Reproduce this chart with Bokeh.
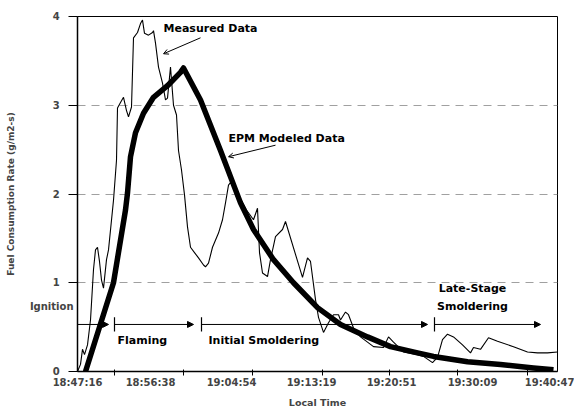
from bokeh.plotting import figure
from bokeh.models import (LinearAxis, FixedTicker, Range1d, Arrow, NormalHead, OpenHead,
                          ColumnDataSource, Grid)
from bokeh.embed import file_html
from bokeh.resources import INLINE
from bokeh.core.properties import value

# ---- data ----
meas_x = [0.0, 0.3, 0.5, 0.7, 1.0, 1.3, 1.6, 1.8, 2.0, 2.2, 2.4, 2.6, 2.9, 3.1, 3.6, 3.9, 4.0,
          4.3, 4.6, 4.9, 5.1, 5.4, 5.6, 6.0, 6.3, 6.5, 6.7, 7.1, 7.5, 7.6, 7.8, 8.1, 8.5, 8.8,
          9.0, 9.3, 9.6, 9.9, 10.1, 10.4, 10.7, 11.0, 11.3, 11.7, 12.1, 12.6, 12.8, 13.1, 13.5,
          14.1, 14.5, 14.8, 15.1, 15.3, 16.1, 16.9, 17.6, 18.0, 18.2, 18.5, 19.0, 19.3, 19.8,
          20.5, 20.8, 22.5, 23.0, 23.3, 23.8, 24.1, 24.6, 25.1, 25.6, 26.1, 26.3, 26.8, 27.1,
          27.6, 28.3, 29.6, 30.6, 31.1, 31.6, 32.6, 34.0, 34.6, 35.5, 36.0, 36.5, 37.0, 37.6,
          38.5, 39.3, 39.6, 40.3, 41.1, 42.0, 43.6, 45.0, 46.0, 47.0, 48.0]
meas_y = [0.0, 0.08, 0.25, 0.19, 0.30, 0.58, 1.15, 1.37, 1.40, 1.24, 1.03, 0.94, 1.26, 1.37,
          1.93, 2.38, 2.97, 3.03, 3.09, 2.94, 2.87, 2.98, 3.76, 3.82, 3.92, 3.96, 3.81, 3.79,
          3.82, 3.84, 3.70, 3.43, 3.25, 3.06, 3.08, 3.43, 3.00, 2.89, 2.49, 2.27, 1.99, 1.63,
          1.40, 1.34, 1.28, 1.20, 1.18, 1.22, 1.40, 1.56, 1.71, 1.90, 2.10, 2.13, 1.99, 1.82,
          1.71, 1.84, 1.34, 1.11, 1.07, 1.26, 1.52, 1.60, 1.69, 1.06, 1.28, 1.24, 0.81, 0.61,
          0.44, 0.55, 0.64, 0.64, 0.58, 0.67, 0.64, 0.49, 0.39, 0.28, 0.27, 0.39, 0.33, 0.22,
          0.19, 0.17, 0.10, 0.16, 0.36, 0.42, 0.39, 0.30, 0.21, 0.27, 0.25, 0.38, 0.34, 0.28,
          0.22, 0.21, 0.21, 0.22]

model_x = [0.8, 3.6, 4.8, 5.0, 5.3, 5.8, 6.6, 7.6, 9.0, 10.3, 10.6, 12.3, 14.3, 16.3, 17.6,
           19.6, 21.6, 24.0, 26.3, 29.0, 31.3, 34.0, 35.6, 39.0, 42.3, 45.6, 47.6]
model_y = [0.0, 1.0, 1.82, 2.01, 2.42, 2.69, 2.91, 3.09, 3.22, 3.37, 3.42, 3.06, 2.49, 1.90,
           1.60, 1.26, 1.0, 0.72, 0.53, 0.39, 0.28, 0.21, 0.17, 0.11, 0.08, 0.04, 0.02]

x_tick_pos = [3.7, 10.6, 17.5, 24.5, 31.2, 38.0, 45.0]
x_label_pos = [0, 7.3, 15.4, 23.4, 31.4, 39.5, 47.3]
x_labels = ["18:47:16", "18:56:38", "19:04:54", "19:13:19", "19:20:51", "19:30:09", "19:40:47"]
y_ticks = [0, 1, 2, 3, 4]
y_labels = ["0", "1", "2", "3", "4"]
grid_ticks = [1, 2, 3]

phase_y = 0.53
phase_start = [0.0, 3.7, 12.4, 35.7]
phase_end = [3.1, 11.6, 35.0, 46.3]
phase_bars = [3.7, 12.4, 35.7]
phase_text = ["Flaming", "Initial Smoldering", "Late-Stage", "Smoldering"]
phase_text_x = [4.0, 13.1, 39.5, 39.5]
phase_text_y = [0.35, 0.35, 0.93, 0.73]
phase_text_align = ["left", "left", "center", "center"]
ignition_label_y = 0.73

FONT = "DejaVu Sans"
PAD = "\u2007\u2007"  # figure spaces keep the numbers clear of the tick marks

p = figure(width=574, height=410, x_range=Range1d(0, 48), y_range=Range1d(0, 4),
           x_axis_type=None, y_axis_type=None, output_backend="svg", toolbar_location=None,
           min_border_left=77, min_border_right=17, min_border_top=16, min_border_bottom=38)
p.outline_line_color = "black"
p.outline_line_width = 1
p.background_fill_color = "white"
p.border_fill_color = "white"

# y axis: numeric labels + the "Ignition" phase label share one axis;
# the tick marks come from the minor ticks so no mark is drawn beside "Ignition"
y_overrides = {t: lab + PAD for t, lab in zip(y_ticks, y_labels)}
y_overrides[ignition_label_y] = "Ignition"
yaxis = LinearAxis(ticker=FixedTicker(ticks=y_ticks + [ignition_label_y], minor_ticks=y_ticks),
                   major_label_overrides=y_overrides,
                   axis_label="Fuel Consumption Rate (g/m2-s)",
                   axis_label_text_font=FONT, axis_label_text_font_style="bold",
                   axis_label_text_font_size="9px", axis_label_standoff=11,
                   major_label_text_font=FONT, major_label_text_font_style="bold",
                   major_label_text_font_size="10px", major_label_standoff=-5,
                   major_tick_out=0, major_tick_in=0, major_tick_line_color=None,
                   minor_tick_out=9, minor_tick_in=0, minor_tick_line_color="black",
                   minor_tick_line_width=1,
                   axis_line_color="black", axis_line_width=1.5)
p.add_layout(yaxis, "left")

p.add_layout(Grid(dimension=1, ticker=FixedTicker(ticks=grid_ticks),
                  grid_line_color="#a0a0a0", grid_line_dash="8 6", grid_line_width=1.2))

# x axis: tick marks
xaxis_ticks = LinearAxis(ticker=FixedTicker(ticks=x_tick_pos),
                         major_label_overrides={t: "" for t in x_tick_pos},
                         major_label_text_font_size="0px", major_label_standoff=0,
                         major_tick_out=4, major_tick_in=2, minor_tick_out=0, minor_tick_in=0,
                         axis_line_color="black", axis_line_width=1.5)
p.add_layout(xaxis_ticks, "below")
# x axis: labels
xaxis_labels = LinearAxis(ticker=FixedTicker(ticks=x_label_pos),
                          major_label_overrides=dict(zip(x_label_pos, x_labels)),
                          major_label_text_font=FONT, major_label_text_font_style="bold",
                          major_label_text_font_size="10px", major_label_standoff=1,
                          major_tick_out=0, major_tick_in=0, minor_tick_out=0, minor_tick_in=0,
                          major_tick_line_color=None, axis_line_color=None,
                          axis_label="Local Time", axis_label_text_font=FONT,
                          axis_label_text_font_style="bold", axis_label_text_font_size="9.5px",
                          axis_label_standoff=6)
p.add_layout(xaxis_labels, "below")

# data lines
p.line(meas_x, meas_y, line_color="black", line_width=1.1)
p.line(model_x, model_y, line_color="black", line_width=5.5, line_join="round")

# phase arrows
arr_src = ColumnDataSource(dict(x0=phase_start, x1=phase_end, y=[phase_y] * len(phase_start)))
p.add_layout(Arrow(end=NormalHead(size=6, fill_color="black", line_color="black"),
                   x_start="x0", y_start="y", x_end="x1", y_end="y",
                   line_color="black", line_width=1, source=arr_src))
p.segment(x0=phase_bars, y0=[phase_y - 0.08] * len(phase_bars),
          x1=phase_bars, y1=[phase_y + 0.08] * len(phase_bars), line_color="black", line_width=1.2)

p.text(x=phase_text_x, y=phase_text_y, text=phase_text, text_align=phase_text_align,
       text_baseline="middle", text_font=value(FONT), text_font_style="bold",
       text_font_size="11px", text_color="black")

# series annotations
ann_text = ["Measured Data", "EPM Modeled Data"]
ann_x = [8.6, 15.1]
ann_y = [3.87, 2.63]
p.text(x=ann_x, y=ann_y, text=ann_text, text_align="left", text_baseline="middle",
       text_font=value(FONT), text_font_style="bold", text_font_size="11px", text_color="black")
lead_src = ColumnDataSource(dict(x0=[12.3, 19.8], y0=[3.76, 2.55], x1=[8.6, 15.1], y1=[3.58, 2.42]))
p.add_layout(Arrow(end=OpenHead(size=5, line_color="black", line_width=1),
                   x_start="x0", y_start="y0", x_end="x1", y_end="y1",
                   line_color="black", line_width=1, source=lead_src))

open("out.html", "w").write(file_html(p, INLINE))
